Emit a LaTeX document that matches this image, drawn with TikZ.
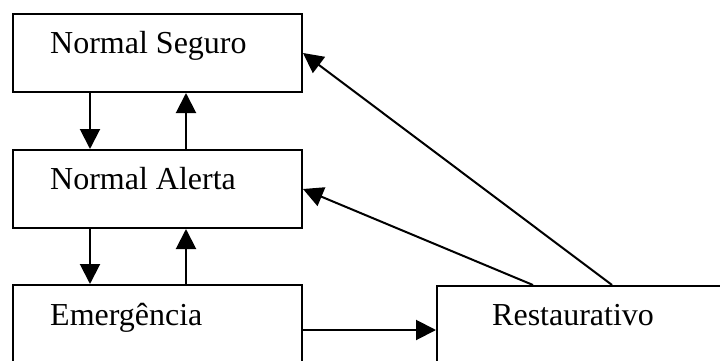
\documentclass[tikz,border=0pt]{standalone}
\usepackage{fontspec}
\setmainfont{Liberation Serif}
\usetikzlibrary{arrows.meta,calc}
\begin{document}
\begin{tikzpicture}[x=1pt,y=1pt,
  box/.style={draw,line width=2pt,minimum width=289pt,minimum height=78pt,anchor=north west,inner sep=0pt},
  lbl/.style={anchor=base west,inner sep=0pt,font=\fontsize{32}{38}\selectfont},
  conn/.style={line width=2pt,-{Triangle[length=20pt,width=20pt]}}]
\clip (0,0) rectangle (720,360);
\useasboundingbox (0,0) rectangle (720,360);
\node[box] (s) at (12,347) {};
\node[box] (a) at (12,211) {};
\node[box,minimum height=90pt] (e) at (12,76) {};
\node[box,minimum width=300pt,minimum height=90pt] (r) at (436,75) {};
\node[lbl] (ts) at (50,307) {Normal Seguro};
\node[lbl] (ta) at (50,171) {Normal Alerta};
\node[lbl] (te) at (50,35) {Emergência};
\node[lbl] (tr) at (492,35) {Restaurativo};
\coordinate (r1) at ($(r.north west)+(97,0)$);
\coordinate (r2) at ($(r.north west)+(176,0)$);
\draw[conn] ($(s.south west)+(78,0)$) -- ($(a.north west)+(78,0)$);
\draw[conn] ($(a.north west)+(174,0)$) -- ($(s.south west)+(174,0)$);
\draw[conn] ($(a.south west)+(78,0)$) -- ($(e.north west)+(78,0)$);
\draw[conn] ($(e.north west)+(174,0)$) -- ($(a.south west)+(174,0)$);
\draw[conn] (e.east) -- (e.east -| r.west);
\draw[conn] (r1) -- (a.east);
\draw[conn] (r2) -- (s.east);
\end{tikzpicture}
\end{document}
